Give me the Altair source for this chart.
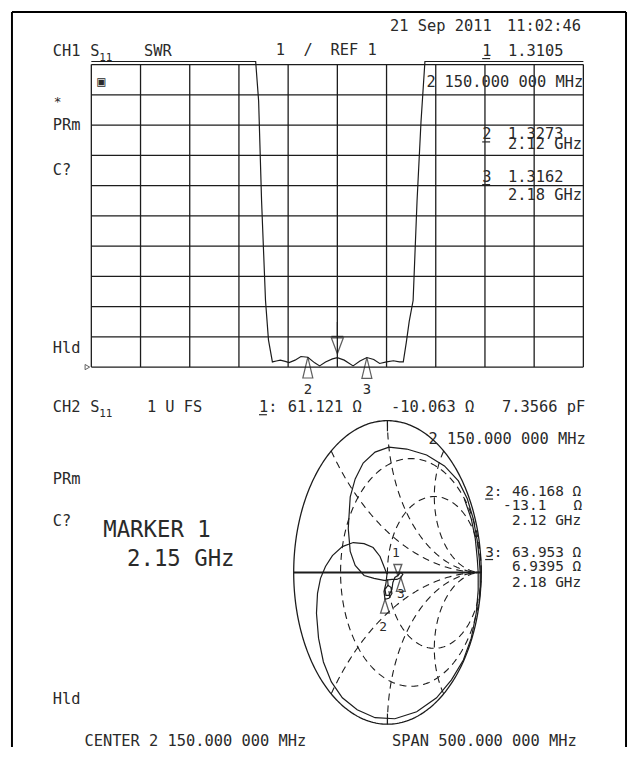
import altair as alt
import numpy as np
import pandas as pd

# ------------------------------------------------------------------ DATA
# CH1 : S11 SWR trace (frequency in MHz, SWR), 1 unit/div, REF 1
swr_freq_mhz = [1900, 2067, 2070, 2073, 2077, 2080, 2084, 2088, 2092, 2097,
                2101, 2107, 2113, 2120, 2127, 2132, 2138, 2145, 2150, 2157,
                2166, 2173, 2180, 2187, 2193, 2200, 2207, 2213, 2217, 2220,
                2223, 2227, 2231, 2235, 2239, 2400]
swr_values = [11.1, 11.1, 9.8, 6.5, 3.2, 1.9, 1.17, 1.20, 1.23, 1.19,
              1.15, 1.23, 1.35, 1.327, 1.14, 1.04, 1.17, 1.27, 1.311, 1.23,
              1.04, 1.20, 1.316, 1.25, 1.12, 1.17, 1.21, 1.17, 1.17, 1.8,
              2.5, 3.2, 6.5, 9.1, 11.1, 11.1]
swr_grid_freq = [1900, 1950, 2000, 2050, 2100, 2150, 2200, 2250, 2300, 2350, 2400]
swr_grid_levels = [1, 2, 3, 4, 5, 6, 7, 8, 9, 10, 11]
swr_ref_level = [1]

marker_names = ["1", "2", "3"]
marker_freq_mhz = [2150, 2120, 2180]
marker_swr = [1.3105, 1.3273, 1.3162]

# CH2 : S11 Smith chart trace (reflection coefficient re / im)
smith_re = [0.820, 0.894, 0.937, 0.958, 0.968, 0.968, 0.947, 0.894, 0.810, 0.683,
            0.524, 0.312, 0.079, -0.132, -0.323, -0.481, -0.598, -0.683, -0.735, -0.757,
            -0.746, -0.714, -0.661, -0.587, -0.481, -0.365, -0.249, -0.153, -0.079, -0.037,
            -0.005, -0.016, -0.037, -0.026, 0.016, 0.048, 0.037, 0.005, -0.026, -0.016,
            0.016, 0.048, 0.058, 0.079, 0.111, 0.143, 0.164, 0.143, 0.101, 0.048,
            -0.037, -0.143, -0.249, -0.344, -0.397, -0.418, -0.407, -0.397, -0.344, -0.259,
            -0.132, 0.016, 0.206, 0.418, 0.608, 0.757, 0.852, 0.915, 0.958, 0.979,
            0.989, 0.989, 0.979]
smith_im = [0.485, 0.354, 0.223, 0.092, 0.000, -0.118, -0.269, -0.433, -0.577, -0.708,
            -0.826, -0.918, -0.964, -0.957, -0.905, -0.826, -0.721, -0.590, -0.433, -0.269,
            -0.138, -0.039, 0.039, 0.111, 0.170, 0.197, 0.190, 0.164, 0.105, 0.039,
            -0.013, -0.072, -0.125, -0.177, -0.170, -0.138, -0.098, -0.085, -0.111, -0.151,
            -0.151, -0.111, -0.066, -0.033, -0.020, 0.000, -0.013, -0.033, -0.046, -0.046,
            -0.052, -0.039, -0.020, 0.046, 0.138, 0.289, 0.400, 0.498, 0.616, 0.721,
            0.793, 0.826, 0.813, 0.774, 0.702, 0.603, 0.485, 0.354, 0.210, 0.092,
            0.000, -0.105, -0.203]
smith_marker_re = [0.111, -0.026, 0.143]
smith_marker_im = [-0.020, -0.177, -0.033]

# Smith graticule (normalised resistance circles / reactance arcs)
graticule_resistance = [1 / 3, 1]
graticule_reactance = [0.5, 1, 2, -0.5, -1, -2]

# Readout texts
date_text = ["21 Sep 2011", "11:02:46"]
ch1_text = ["CH1", "S", "11", "SWR", "1", "/", "REF 1"]
ch1_marker_text = ["1", "1.3105", "2", "150.000 000 MHz",
                   "2", "1.3273", "2.12 GHz", "3", "1.3162", "2.18 GHz"]
side_text = ["*", "PRm", "C?", "Hld"]
ch2_text = ["CH2", "S", "11", "1 U FS", "1:", "61.121 Ω", "-10.063 Ω", "7.3566 pF",
            "2 150.000 000 MHz"]
ch2_marker_text = ["2:", "46.168 Ω", "-13.1", "Ω", "2.12 GHz",
                   "3:", "63.953 Ω", "6.9395 Ω", "2.18 GHz"]
big_text = ["MARKER 1", "2.15 GHz"]
footer_text = ["CENTER 2 150.000 000 MHz", "SPAN  500.000 000 MHz"]

# ------------------------------------------------------------------ LAYOUT
PADL, PADT = 4, 1
W, H = 619, 741
FONT = "DejaVu Sans Mono"
INK = "#1c1c1c"
TXT = "#2a2a2a"
FS = 15.5
FS2 = 14.5


def PX(x):
    return x - 8 - PADL


def PY(y):
    return y - 8 - PADT


fx = alt.Scale(domain=[1900, 2400], range=[PX(92), PX(588)], nice=False, zero=False)
fy = alt.Scale(domain=[1, 11], range=[PY(367), PY(62)], nice=False, zero=False)
gxs = alt.Scale(domain=[-1, 1], range=[PX(296), PX(485)], nice=False, zero=False)
gys = alt.Scale(domain=[-1, 1], range=[PY(727), PY(421)], nice=False, zero=False)

layers = []
one = alt.Data(values=[{}])

# ---- outer frame of the screen dump (left, top, right; bottom is cut off)
layers.append(alt.Chart(one).mark_rule(color="#000", strokeWidth=2).encode(
    x=alt.value(0), y=alt.value(0), y2=alt.value(H)))
layers.append(alt.Chart(one).mark_rule(color="#000", strokeWidth=2).encode(
    x=alt.value(W), y=alt.value(0), y2=alt.value(H)))
layers.append(alt.Chart(one).mark_rule(color="#000", strokeWidth=2).encode(
    x=alt.value(0), x2=alt.value(W), y=alt.value(0)))

# ---- CH1 grid
vgrid = pd.DataFrame({"f": swr_grid_freq, "lo": swr_grid_levels[0], "hi": swr_grid_levels[-1]})
hgrid = pd.DataFrame({"s": swr_grid_levels, "lo": swr_grid_freq[0], "hi": swr_grid_freq[-1]})
layers.append(alt.Chart(vgrid).mark_rule(color=INK, strokeWidth=1.3).encode(
    x=alt.X("f:Q", scale=fx, axis=None),
    y=alt.Y("lo:Q", scale=fy, axis=None), y2="hi:Q"))
layers.append(alt.Chart(hgrid).mark_rule(color=INK, strokeWidth=1.3).encode(
    y=alt.Y("s:Q", scale=fy, axis=None),
    x=alt.X("lo:Q", scale=fx, axis=None), x2="hi:Q"))

# ---- CH1 trace
swr_df = pd.DataFrame({"f": swr_freq_mhz, "s": swr_values})
layers.append(alt.Chart(swr_df).mark_line(color=INK, strokeWidth=1.2).encode(
    x=alt.X("f:Q", scale=fx, axis=None),
    y=alt.Y("s:Q", scale=fy, axis=None)))

# ---- reference level marker
layers.append(alt.Chart(pd.DataFrame({"s": swr_ref_level})).mark_point(
    shape="triangle-right", size=28, filled=False, color=INK, strokeWidth=1).encode(
    x=alt.value(PX(88)), y=alt.Y("s:Q", scale=fy, axis=None)))

# ---- CH1 markers
mk = pd.DataFrame({"name": marker_names, "f": marker_freq_mhz, "s": marker_swr})
M1_TOP = "M0,-0.2L0.3,-1L-0.3,-1Z M-0.3,-1.08L0.3,-1.08 M0,-1L0,-1.8"
TRI_UP = "M0,0L0.24,1L-0.24,1Z"
layers.append(alt.Chart(mk).transform_filter("datum.name == '1'").mark_point(
    shape=M1_TOP, size=1600, filled=False, color=INK, strokeWidth=1.3).encode(
    x=alt.X("f:Q", scale=fx, axis=None), y=alt.Y("s:Q", scale=fy, axis=None)))
layers.append(alt.Chart(mk).transform_filter("datum.name != '1'").mark_point(
    shape=TRI_UP, size=1764, filled=False, color=INK, strokeWidth=1.2).encode(
    x=alt.X("f:Q", scale=fx, axis=None), y=alt.Y("s:Q", scale=fy, axis=None)))
layers.append(alt.Chart(mk).transform_filter("datum.name != '1'").mark_text(
    font=FONT, fontSize=14, color=TXT, baseline="alphabetic", dy=37).encode(
    x=alt.X("f:Q", scale=fx, axis=None), y=alt.Y("s:Q", scale=fy, axis=None),
    text="name:N"))

# ---- Smith graticule
outer_t = np.linspace(0, 2 * np.pi, 361)
outer_df = pd.DataFrame({"i": np.arange(outer_t.size), "gx": np.cos(outer_t), "gy": np.sin(outer_t)})
layers.append(alt.Chart(outer_df).mark_line(color=INK, strokeWidth=1.3).encode(
    x=alt.X("gx:Q", scale=gxs, axis=None), y=alt.Y("gy:Q", scale=gys, axis=None),
    order="i:Q"))

grat = []
for r in graticule_resistance:
    c, rad = r / (1 + r), 1 / (1 + r)
    t = np.linspace(0, 2 * np.pi, 241)
    for i, (a, b) in enumerate(zip(c + rad * np.cos(t), rad * np.sin(t))):
        grat.append({"id": f"r{r:.3f}", "i": i, "gx": a, "gy": b})
rr = np.concatenate([np.linspace(0, 4, 200), np.geomspace(4.05, 3000, 80)])
for xr in graticule_reactance:
    g = ((rr + 1j * xr) - 1) / ((rr + 1j * xr) + 1)
    for i, v in enumerate(g):
        grat.append({"id": f"x{xr}", "i": i, "gx": v.real, "gy": v.imag})
grat_df = pd.DataFrame(grat)
layers.append(alt.Chart(grat_df).mark_line(color=INK, strokeWidth=1.1, strokeDash=[7, 5]).encode(
    x=alt.X("gx:Q", scale=gxs, axis=None), y=alt.Y("gy:Q", scale=gys, axis=None),
    detail="id:N", order="i:Q"))

axis_df = pd.DataFrame({"lo": [-1], "hi": [1], "gy": [0]})
layers.append(alt.Chart(axis_df).mark_rule(color=INK, strokeWidth=2).encode(
    x=alt.X("lo:Q", scale=gxs, axis=None), x2="hi:Q",
    y=alt.Y("gy:Q", scale=gys, axis=None)))
tick_df = pd.DataFrame({"gx": [0, 0], "a": [1, -1], "b": [0.93, -0.93]})
layers.append(alt.Chart(tick_df).mark_rule(color=INK, strokeWidth=1.2).encode(
    x=alt.X("gx:Q", scale=gxs, axis=None),
    y=alt.Y("a:Q", scale=gys, axis=None), y2="b:Q"))

# ---- Smith trace
smith_df = pd.DataFrame({"i": np.arange(len(smith_re)), "gx": smith_re, "gy": smith_im})
layers.append(alt.Chart(smith_df).mark_line(color=INK, strokeWidth=1.2).encode(
    x=alt.X("gx:Q", scale=gxs, axis=None), y=alt.Y("gy:Q", scale=gys, axis=None),
    order="i:Q"))

# ---- Smith markers
smk = pd.DataFrame({"name": marker_names, "gx": smith_marker_re, "gy": smith_marker_im})
layers.append(alt.Chart(smk).transform_filter("datum.name == '1'").mark_point(
    shape="M0,0L0.36,-1L-0.36,-1Z", size=484, filled=False, color=INK, strokeWidth=1.4).encode(
    x=alt.X("gx:Q", scale=gxs, axis=None), y=alt.Y("gy:Q", scale=gys, axis=None)))
layers.append(alt.Chart(smk).transform_filter("datum.name != '1'").mark_point(
    shape="M0,0L0.32,1L-0.32,1Z", size=784, filled=False, color=INK, strokeWidth=1.3).encode(
    x=alt.X("gx:Q", scale=gxs, axis=None), y=alt.Y("gy:Q", scale=gys, axis=None)))
for nm, ddx, ddy in [("1", -2, -19), ("2", -2, 32), ("3", 0, 21)]:
    layers.append(alt.Chart(smk).transform_filter(f"datum.name == '{nm}'").mark_text(
        font=FONT, fontSize=13, color=TXT, baseline="alphabetic", dx=ddx, dy=ddy).encode(
        x=alt.X("gx:Q", scale=gxs, axis=None), y=alt.Y("gy:Q", scale=gys, axis=None),
        text="name:N"))


# ---- texts
def label(txt, x, y, size=FS):
    return alt.Chart(one).mark_text(
        text=txt, align="left", baseline="alphabetic", font=FONT, fontSize=size,
        color=TXT).encode(x=alt.value(PX(x)), y=alt.value(PY(y)))


def underline(x, y, w=8):
    return alt.Chart(one).mark_rule(color=TXT, strokeWidth=1.2).encode(
        x=alt.value(PX(x)), x2=alt.value(PX(x + w)), y=alt.value(PY(y)))


placements = [
    (date_text[0], 393, 28, FS), (date_text[1], 511, 28, FS),
    (ch1_text[0], 53, 53, FS), (ch1_text[1], 91, 53, FS), (ch1_text[2], 100, 58, 11),
    (ch1_text[3], 145, 53, FS), (ch1_text[4], 278, 52, FS), (ch1_text[5], 306, 52, FS),
    (ch1_text[6], 333, 52, FS),
    (ch1_marker_text[0], 486, 53, FS), (ch1_marker_text[1], 512, 53, FS),
    (ch1_marker_text[2], 430, 85, FS), (ch1_marker_text[3], 448, 85, FS),
    (ch1_marker_text[4], 486, 137, FS), (ch1_marker_text[5], 512, 137, FS),
    (ch1_marker_text[6], 512, 147, FS),
    (ch1_marker_text[7], 486, 180, FS), (ch1_marker_text[8], 512, 180, FS),
    (ch1_marker_text[9], 512, 199, FS),
    ("▣", 98, 84, 14),
    (side_text[0], 54, 104, 13), (side_text[1], 53, 128, FS), (side_text[2], 53, 173, FS),
    (side_text[3], 53, 353, FS),
    (ch2_text[0], 53, 412, FS), (ch2_text[1], 91, 412, FS), (ch2_text[2], 100, 417, 11),
    (ch2_text[3], 148, 412, FS), (ch2_text[4], 261, 412, FS),
    (ch2_text[5], 290, 412, FS), (ch2_text[6], 394, 412, FS), (ch2_text[7], 506, 412, FS),
    (ch2_text[8], 432, 445, FS),
    (side_text[1], 53, 485, FS), (side_text[2], 53, 527, FS), (side_text[3], 53, 707, FS),
    (big_text[0], 104, 538, 22.5), (big_text[1], 128, 568, 22.5),
    (ch2_marker_text[0], 489, 497, FS2), (ch2_marker_text[1], 516, 497, FS2),
    (ch2_marker_text[2], 507, 511, FS2), (ch2_marker_text[3], 578, 511, FS2),
    (ch2_marker_text[4], 516, 526, FS2),
    (ch2_marker_text[5], 489, 558, FS2), (ch2_marker_text[6], 516, 558, FS2),
    (ch2_marker_text[7], 516, 573, FS2), (ch2_marker_text[8], 516, 589, FS2),
    (footer_text[0], 85, 749, FS), (footer_text[1], 395, 749, FS),
]
for txt, x, y, s in placements:
    layers.append(label(txt, x, y, s))

# underlined marker numbers
for ux, uy in [(486, 56), (486, 140), (486, 183), (261, 415), (489, 500), (489, 561)]:
    layers.append(underline(ux, uy))

chart = alt.layer(*layers).resolve_scale(x="independent", y="independent").properties(
    width=W, height=H,
    padding={"left": PADL, "top": PADT, "right": 2, "bottom": 0},
    autosize=alt.AutoSizeParams(type="none"),
    background="white",
).configure_view(stroke=None)

chart.save("out.html", embed_options={"renderer": "svg", "actions": False})
